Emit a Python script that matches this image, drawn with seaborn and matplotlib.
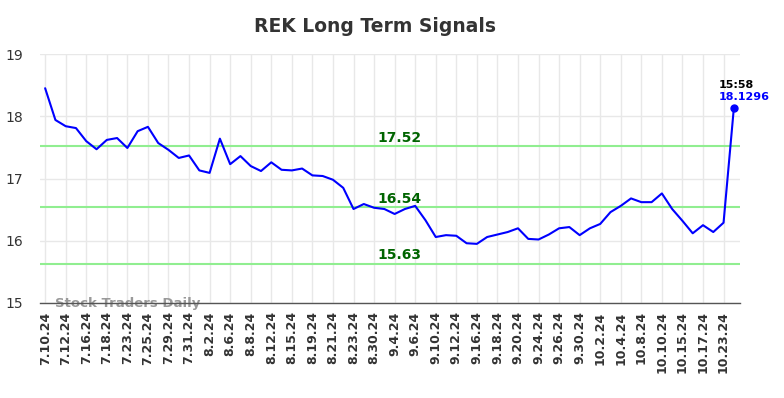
import matplotlib
matplotlib.use("Agg")
import matplotlib.pyplot as plt
import seaborn as sns
import pandas as pd
import numpy as np

dates = ["7.10.24", "7.12.24", "7.16.24", "7.18.24", "7.23.24", "7.25.24", "7.29.24", "7.31.24",
         "8.2.24", "8.6.24", "8.8.24", "8.12.24", "8.15.24", "8.19.24", "8.21.24", "8.23.24",
         "8.30.24", "9.4.24", "9.6.24", "9.10.24", "9.12.24", "9.16.24", "9.18.24", "9.20.24",
         "9.24.24", "9.26.24", "9.30.24", "10.2.24", "10.4.24", "10.8.24", "10.10.24", "10.15.24",
         "10.17.24", "10.23.24"]

prices = [18.45, 17.94, 17.84, 17.81, 17.60, 17.47, 17.62, 17.65, 17.49, 17.76,
          17.83, 17.57, 17.46, 17.33, 17.37, 17.13, 17.09, 17.64, 17.23, 17.36,
          17.20, 17.12, 17.26, 17.14, 17.13, 17.16, 17.05, 17.04, 16.98, 16.85,
          16.51, 16.59, 16.53, 16.51, 16.43, 16.51, 16.56, 16.33, 16.06, 16.09,
          16.08, 15.96, 15.95, 16.06, 16.10, 16.14, 16.20, 16.03, 16.02, 16.10,
          16.20, 16.22, 16.09, 16.20, 16.27, 16.46, 16.56, 16.68, 16.62, 16.62,
          16.76, 16.51, 16.32, 16.12, 16.25, 16.14, 16.29, 18.1296]

levels = [17.52, 16.54, 15.63]
level_labels = ["17.52", "16.54", "15.63"]
last_time = "15:58"
last_label = "18.1296"
title = "REK Long Term Signals"
watermark = "Stock Traders Daily"

df = pd.DataFrame({"idx": np.arange(len(prices)), "price": prices})

sns.set_style("white")
plt.rcParams['font.family'] = ['DejaVu Sans']

fig = plt.figure(figsize=(7.84, 3.98), dpi=100)
ax = fig.add_axes([40/784, 1-303/398, 700/784, 249/398])

for lv in levels:
    ax.axhline(lv, color="#90EE90", lw=1.5, zorder=1)

sns.lineplot(data=df, x="idx", y="price", ax=ax, color="#0000FF", lw=1.5, zorder=3)
ax.plot(df["idx"].iloc[-1], df["price"].iloc[-1], "o", color="#0000FF", ms=5, zorder=4)

ax.set_xlim(-0.5, len(prices) - 0.4)
ax.set_ylim(15, 19)
ax.set_yticks([15, 16, 17, 18, 19])
ax.set_xticks(np.arange(0, 2*len(dates), 2))
ax.set_xticklabels(dates, rotation=90, fontweight="bold", fontsize=9, color="#333333")
ax.tick_params(axis="y", labelsize=10, labelcolor="#333333", length=0, pad=12)
ax.tick_params(axis="x", length=0, pad=6)
ax.set_xlabel("")
ax.set_ylabel("")
ax.grid(True, color="#e8e8e8", lw=1)
ax.set_axisbelow(True)
for s in ["top", "right", "left"]:
    ax.spines[s].set_visible(False)
ax.spines["bottom"].set_color("#555555")
ax.spines["bottom"].set_linewidth(1)

mid = 34.5
for lv, lab in zip(levels, level_labels):
    ax.text(mid, lv + 0.025, lab, color="#006400", fontweight="bold", fontsize=10,
            ha="center", va="bottom", zorder=5)

lx = df["idx"].iloc[-1]
ly = df["price"].iloc[-1]
ax.annotate(last_time, (lx, ly), xytext=(-11, 17), textcoords="offset points",
            ha="left", va="center", fontsize=8, fontweight="bold", color="#000000")
ax.annotate(last_label, (lx, ly), xytext=(-11, 8), textcoords="offset points",
            ha="left", va="center", fontsize=8, fontweight="bold", color="#0000FF")

ax.text(0.95, 15.0, watermark, fontsize=9.5, fontweight="bold", color="#999999",
        ha="left", va="center", zorder=2)

fig.text(375/784, 1-27/398, title, ha="center", va="center", fontsize=13.5,
         fontweight="bold", color="#333333")

fig.savefig("out.png", dpi=100)
